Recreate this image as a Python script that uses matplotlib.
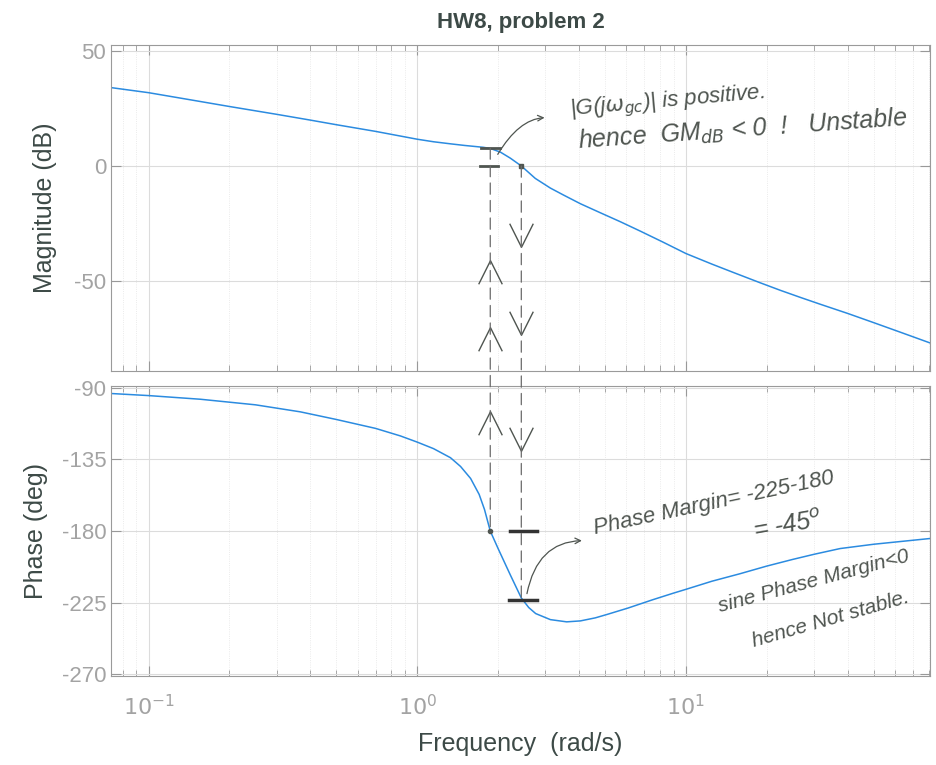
import numpy as np
import matplotlib.pyplot as plt
from matplotlib.patches import ConnectionPatch
from matplotlib.path import Path

# values
freq_mag = [0.0725, 0.1, 0.15, 0.2, 0.3, 0.4, 0.5, 0.7, 1.0, 1.15, 1.33, 1.5, 1.76,
            1.87, 2.04, 2.22, 2.44, 2.75, 3.13, 3.5, 4.05, 4.8, 5.7, 6.77, 8.2,
            10.0, 12.5, 15.0, 18.9, 22.5, 26.6, 31.6, 40.0, 50.0, 63.0, 81.0]
mag_db = [34.0, 31.8, 28.3, 25.8, 22.4, 19.9, 17.9, 15.0, 11.6, 10.5, 9.6, 8.9, 8.1,
          7.6, 6.0, 3.4, 0.0, -5.4, -9.6, -12.6, -16.4, -20.3, -24.2, -28.3, -33.0,
          -38.0, -42.6, -46.2, -50.7, -54.0, -57.0, -60.0, -64.0, -68.0, -72.2, -76.8]

freq_ph = [0.0725, 0.1, 0.156, 0.25, 0.367, 0.5, 0.7, 0.865, 1.0, 1.15, 1.33, 1.45,
           1.58, 1.7, 1.78, 1.87, 2.0, 2.22, 2.44, 2.6, 2.76, 3.13, 3.6, 4.05, 4.6,
           5.1, 6.1, 7.5, 8.98, 10.0, 12.5, 15.9, 20.0, 25.0, 30.0, 37.5, 50.0, 81.0]
phase_deg = [-93.7, -95.0, -97.3, -100.8, -105.2, -110.0, -115.6, -120.3, -124.2,
             -128.3, -134.0, -139.5, -147.0, -157.0, -166.5, -180.0, -191.0, -207.5,
             -222.0, -228.0, -231.8, -235.6, -237.0, -236.4, -234.5, -232.3, -228.3,
             -223.2, -219.0, -216.6, -211.5, -206.8, -202.0, -197.8, -194.6, -191.0,
             -188.3, -184.7]

w_pc = 1.87     # where phase crosses -180
w_gc = 2.44     # where magnitude crosses 0 dB
mag_at_pc = 7.8
pm_phase = -223.0

mag_ticks = [50, 0, -50]
phase_ticks = [-90, -135, -180, -225, -270]

line_c = '#2b8be0'
tick_c = '#a3a3a3'
lab_c = '#3d4a47'
pen = '#4f5550'

plt.rcParams['font.family'] = ['Liberation Sans', 'DejaVu Sans']
plt.rcParams['axes.unicode_minus'] = False

fig = plt.figure(figsize=(9.37, 7.65), dpi=100)
ax1 = fig.add_axes([0.1185, 0.515, 0.874, 0.4262])
ax2 = fig.add_axes([0.1185, 0.1163, 0.874, 0.3791])

for ax in (ax1, ax2):
    ax.set_xscale('log')
    ax.set_xlim(0.0725, 81)
    ax.grid(True, which='major', color='#dcdcdc', lw=0.8)
    ax.grid(True, which='minor', color='#e4e4e4', lw=0.6, ls=':')
    ax.tick_params(which='both', direction='in', top=True, right=True,
                   colors='#999999', labelcolor=tick_c, labelsize=16)
    ax.tick_params(which='major', length=7)
    ax.tick_params(which='minor', length=4)
    for s in ax.spines.values():
        s.set_color('#9a9a9a')

ax1.plot(freq_mag, mag_db, color=line_c, lw=1.1)
ax1.set_ylim(-89, 52.5)
ax1.set_yticks(mag_ticks)
ax1.tick_params(axis='x', which='both', labelbottom=False)
ax1.set_ylabel('Magnitude (dB)', fontsize=18, color=lab_c, labelpad=12)
ax1.set_title('HW8, problem 2', fontsize=16, fontweight='bold', color=lab_c, pad=12)

ax2.plot(freq_ph, phase_deg, color=line_c, lw=1.1)
ax2.set_ylim(-271, -89)
ax2.set_yticks(phase_ticks)
ax2.set_xticks([0.1, 1, 10])
ax2.set_xticklabels(['$10^{-1}$', '$10^{0}$', '$10^{1}$'])
ax2.tick_params(axis='x', pad=14)
ax2.set_ylabel('Phase (deg)', fontsize=18, color=lab_c, labelpad=10)
ax2.set_xlabel('Frequency  (rad/s)', fontsize=18, color=lab_c, labelpad=8)

# dashed projection lines between the two plots
for w, ya, yb in [(w_pc, mag_at_pc, -180), (w_gc, 0, pm_phase)]:
    con = ConnectionPatch(xyA=(w, ya), coordsA=ax1.transData,
                          xyB=(w, yb), coordsB=ax2.transData,
                          ls=(0, (9, 5)), color='#6a6a6a', lw=0.9)
    fig.add_artist(con)

# open chevrons drawn along the dashed lines
up = Path([(-1, -1), (0, 1), (1, -1)], [Path.MOVETO, Path.LINETO, Path.LINETO])
down = Path([(-1, 1), (0, -1), (1, 1)], [Path.MOVETO, Path.LINETO, Path.LINETO])
chev = dict(color=pen, ms=17, mfc='none', mew=1.0, ls='none')
ax1.plot([w_pc, w_pc], [-46, -75], marker=up, **chev)
ax1.plot([w_gc, w_gc], [-30, -68], marker=down, **chev)
ax2.plot([w_pc], [-112], marker=up, **chev)
ax2.plot([w_gc], [-122], marker=down, **chev)

# hand drawn bars and dots
ax1.plot([1.73, 2.03], [mag_at_pc, mag_at_pc], color=pen, lw=2)
ax1.plot([1.71, 2.0], [0, 0], color=pen, lw=2)
ax1.plot([w_gc], [0], 's', color=pen, ms=3)
ax2.plot([w_pc], [-180], 'o', color=pen, ms=3)
ax2.plot([2.22, 2.8], [-180, -180], color='#333333', lw=2.5)
ax2.plot([2.2, 2.78], [pm_phase, pm_phase], color='#333333', lw=2.5)

hand = dict(color=pen, fontstyle='italic', rotation_mode='anchor')
ax1.annotate('', xy=(3.05, 21), xytext=(1.97, 4),
             arrowprops=dict(arrowstyle='->', color=pen, lw=0.9,
                             connectionstyle='angle3,angleA=60,angleB=0'))
ax1.text(3.7, 22, '|G(j$\\omega_{gc}$)| is positive.', rotation=5, fontsize=16, **hand)
ax1.text(4.0, 7.5, 'hence  GM$_{dB}$ < 0  !   Unstable', rotation=4,
         fontsize=18, **hand)

ax2.annotate('', xy=(4.2, -186), xytext=(2.55, -221),
             arrowprops=dict(arrowstyle='->', color=pen, lw=0.9,
                             connectionstyle='angle3,angleA=80,angleB=0'))
ax2.text(4.6, -182, 'Phase Margin= -225-180', rotation=12, fontsize=16, **hand)
ax2.text(18, -185, '= -45$^{o}$', rotation=10, fontsize=18, **hand)
ax2.text(13.4, -231, 'sine Phase Margin<0', rotation=15, fontsize=15, **hand)
ax2.text(18, -253, 'hence Not stable.', rotation=16, fontsize=15, **hand)

fig.savefig('out.png', dpi=100)
